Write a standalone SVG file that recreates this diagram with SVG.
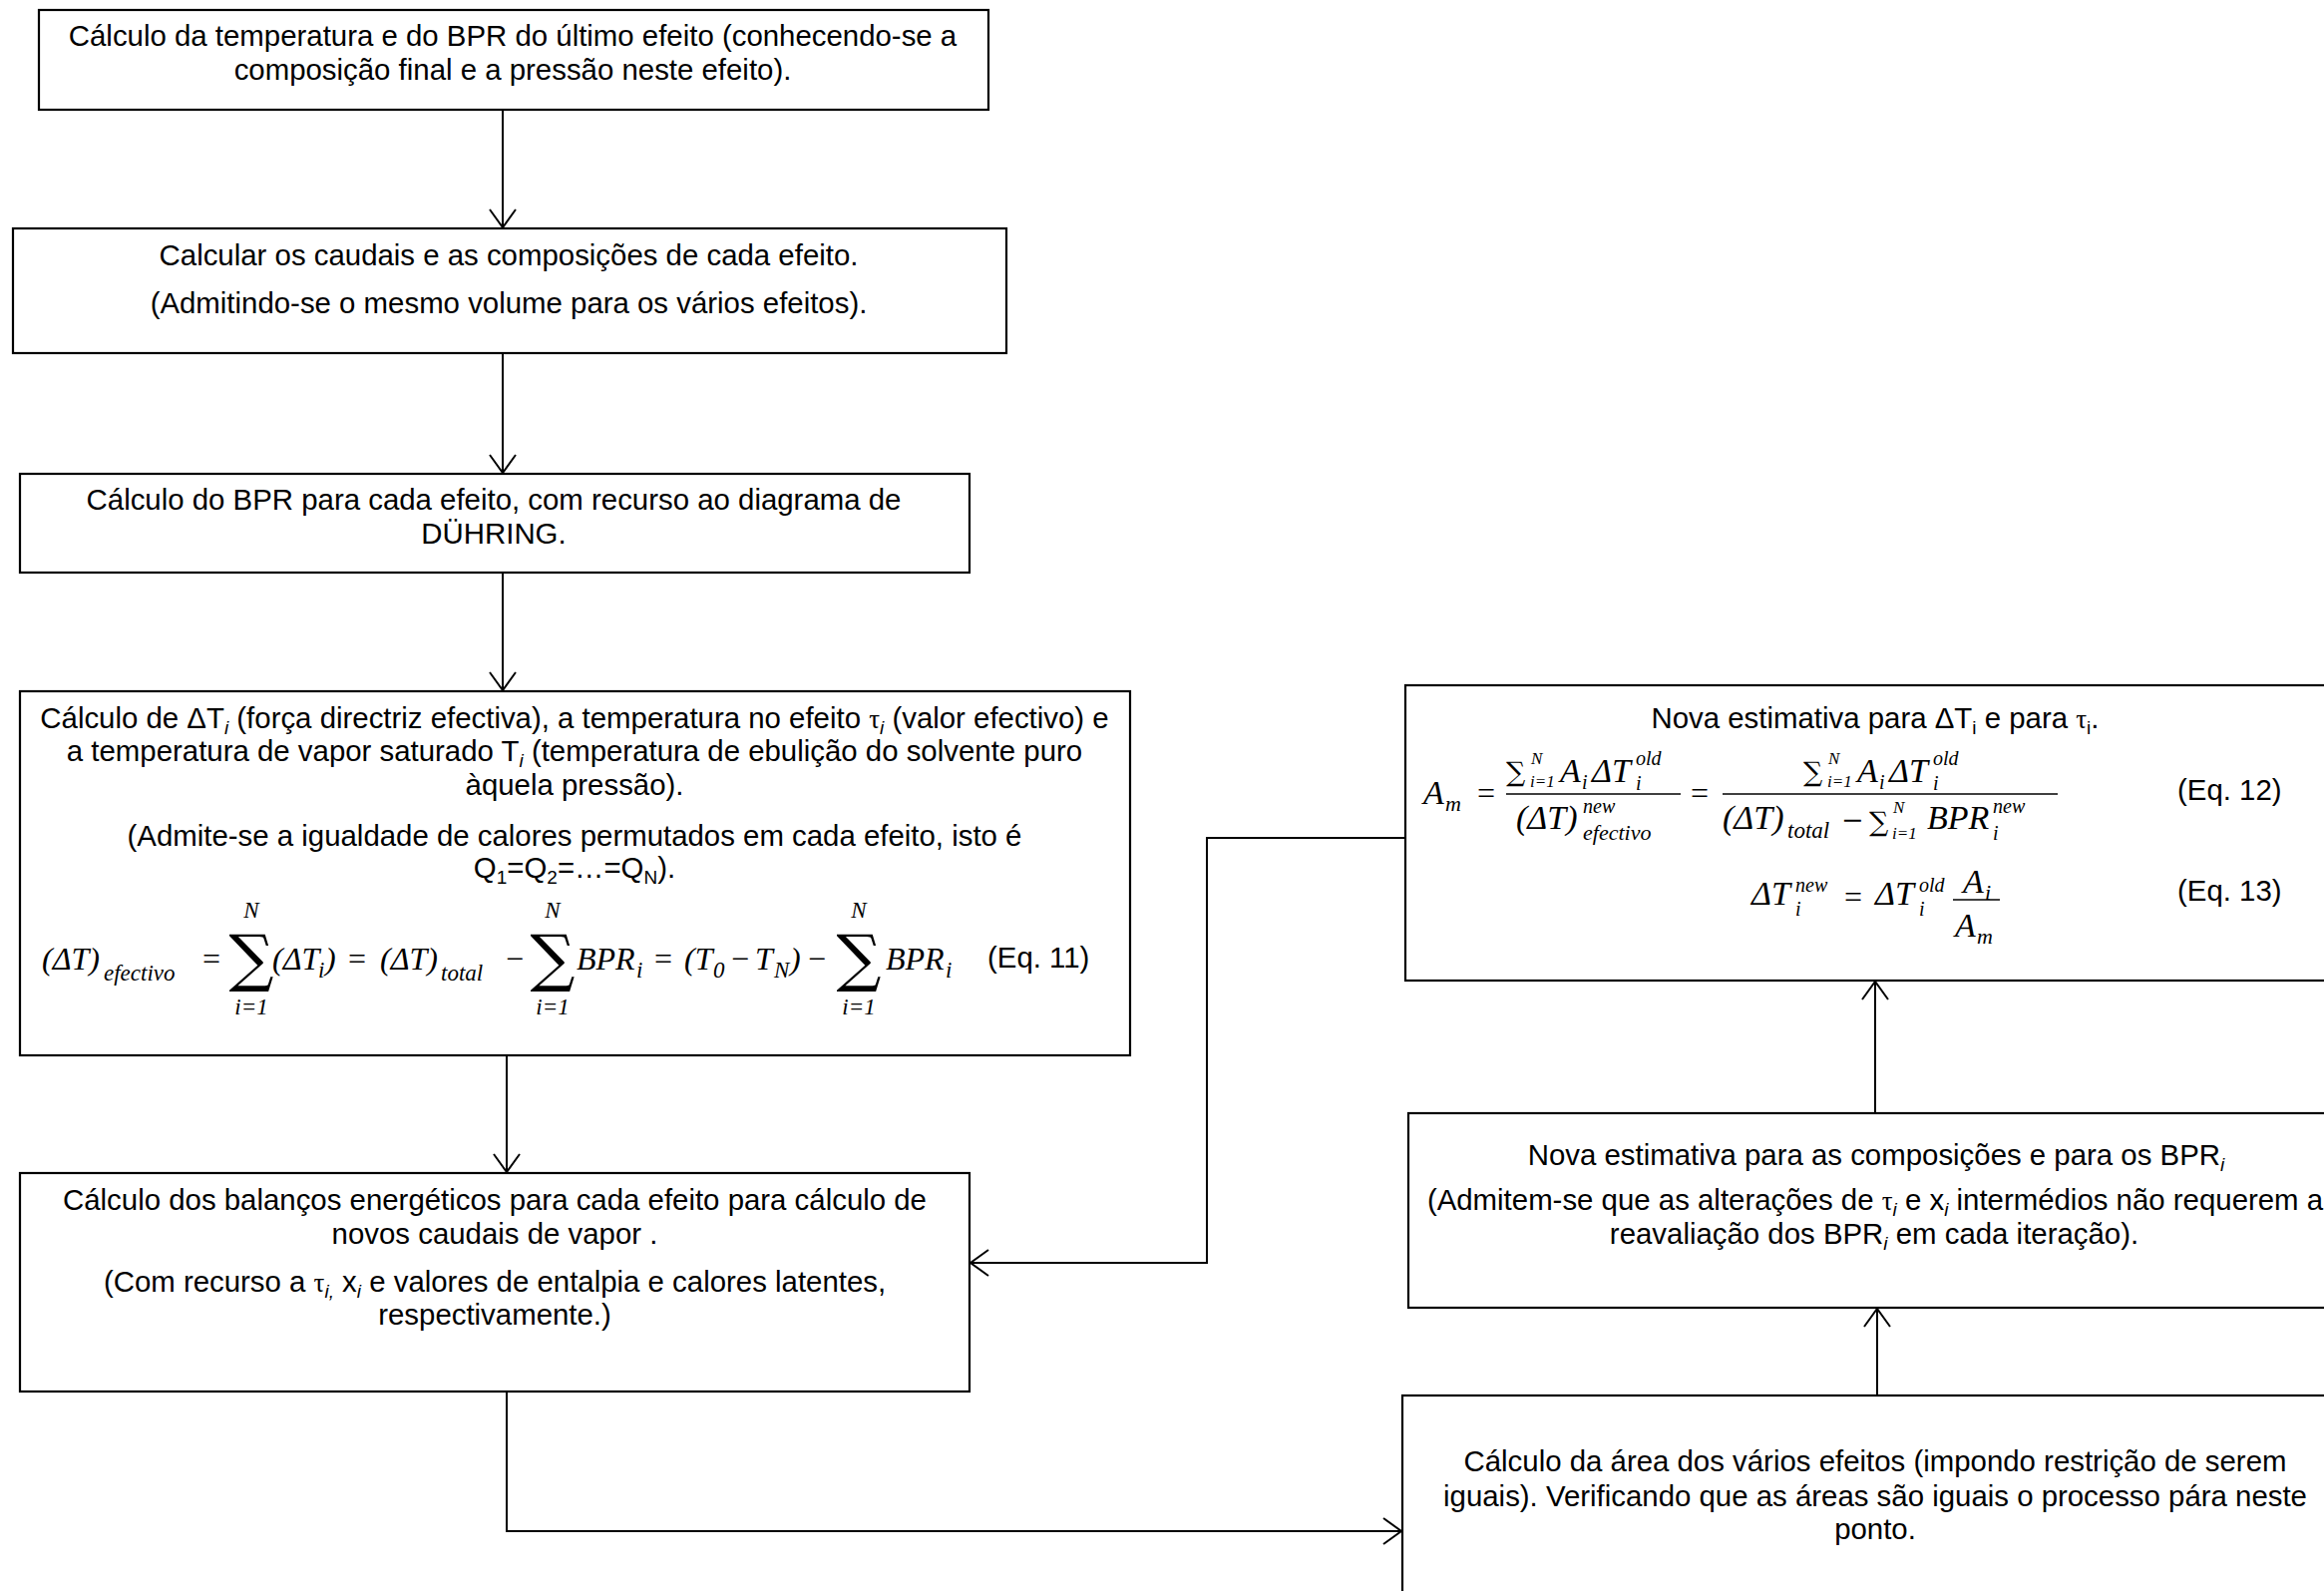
<svg xmlns="http://www.w3.org/2000/svg" width="2330" height="1595" viewBox="0 0 2330 1595">
<defs>
<style>
.box{fill:#fff;stroke:#000;stroke-width:2.2}
.conn{fill:none;stroke:#000;stroke-width:2}
.t{font-family:"Liberation Sans",Arial,sans-serif;font-size:29.4px;fill:#000}
.c{text-anchor:middle}
.s{font-size:19px}
.it{font-style:italic}
.g{font-family:"Liberation Serif","DejaVu Serif",serif;font-size:27px}
.m{font-family:"Liberation Serif","DejaVu Serif",serif;font-style:italic;font-size:32px;fill:#000}
.m2{font-family:"Liberation Serif","DejaVu Serif",serif;font-style:italic;font-size:34px;fill:#000}
.n{font-family:"Liberation Serif","DejaVu Serif",serif;font-size:32px;fill:#000;text-anchor:middle}
.ms{font-size:23px}
.mt{font-size:22px}
.mu{font-size:20px}
.mx{font-size:17px}
.big{font-family:"DejaVu Serif",serif;font-size:63px;font-style:normal}
.sm{font-family:"DejaVu Serif",serif;font-size:27px;font-style:normal}
.eq{font-family:"Liberation Sans",Arial,sans-serif;font-size:29.4px;fill:#000}
.bar{stroke:#000;stroke-width:1.6}
</style>
<marker id="ah" viewBox="-20 -15 22 30" markerWidth="22" markerHeight="30" refX="0" refY="0" orient="auto" markerUnits="userSpaceOnUse">
<path d="M-18,-13 L0,0 L-18,13" fill="none" stroke="#000" stroke-width="2"/>
</marker>
</defs>
<rect width="2330" height="1595" fill="#fff"/>

<g id="connectors">
<path class="conn" d="M504,110 V228" marker-end="url(#ah)"/>
<path class="conn" d="M504,354 V474" marker-end="url(#ah)"/>
<path class="conn" d="M504,574 V692" marker-end="url(#ah)"/>
<path class="conn" d="M508,1058 V1175" marker-end="url(#ah)"/>
<path class="conn" d="M508,1395 V1535 H1405" stroke-width="2.5" marker-end="url(#ah)"/>
<path class="conn" d="M1882,1399 V1312" marker-end="url(#ah)"/>
<path class="conn" d="M1880,1116 V984" marker-end="url(#ah)"/>
<path class="conn" d="M1409,840 H1210 V1266 H973" marker-end="url(#ah)"/>
</g>

<g id="n1">
<rect class="box" x="39" y="10" width="952" height="100"/>
<text class="t c" x="514" y="46">Cálculo da temperatura e do BPR do último efeito (conhecendo-se a</text>
<text class="t c" x="514" y="80">composição final e a pressão neste efeito).</text>
</g>

<g id="n2">
<rect class="box" x="13" y="229" width="996" height="125"/>
<text class="t c" x="510" y="266">Calcular os caudais e as composições de cada efeito.</text>
<text class="t c" x="510" y="314">(Admitindo-se o mesmo volume para os vários efeitos).</text>
</g>

<g id="n3">
<rect class="box" x="20" y="475" width="952" height="99"/>
<text class="t c" x="495" y="511">Cálculo do BPR para cada efeito, com recurso ao diagrama de</text>
<text class="t c" x="495" y="545">DÜHRING.</text>
</g>

<g id="n4">
<rect class="box" x="20" y="693" width="1113" height="365"/>
<text class="t c" x="576" y="730">Cálculo de ΔT<tspan class="s it" dy="6">i</tspan><tspan dy="-6"> (força directriz efectiva), a temperatura no efeito </tspan><tspan class="g">τ</tspan><tspan class="s it" dy="6">i</tspan><tspan dy="-6"> (valor efectivo) e</tspan></text>
<text class="t c" x="576" y="763">a temperatura de vapor saturado T<tspan class="s it" dy="6">i</tspan><tspan dy="-6"> (temperatura de ebulição do solvente puro</tspan></text>
<text class="t c" x="576" y="797">àquela pressão).</text>
<text class="t c" x="576" y="848">(Admite-se a igualdade de calores permutados em cada efeito, isto é</text>
<text class="t c" x="576" y="880">Q<tspan class="s" dy="6">1</tspan><tspan dy="-6">=Q</tspan><tspan class="s" dy="6">2</tspan><tspan dy="-6">=…=Q</tspan><tspan class="s" dy="6">N</tspan><tspan dy="-6">).</tspan></text>
<!-- Eq 11 -->
<text class="m"><tspan x="42" y="972">(ΔT)</tspan><tspan class="ms" x="104" y="983">efectivo</tspan></text>
<text class="n" x="212" y="972">=</text>
<text class="m" text-anchor="middle"><tspan class="big" x="252" y="982">∑</tspan><tspan class="ms" x="252" y="920">N</tspan><tspan class="ms" x="252" y="1017">i=1</tspan></text>
<text class="m"><tspan x="273" y="972">(ΔT</tspan><tspan class="ms" x="319" y="980">i</tspan><tspan x="326" y="972">)</tspan></text>
<text class="n" x="358" y="972">=</text>
<text class="m"><tspan x="381" y="972">(ΔT)</tspan><tspan class="ms" x="442" y="983">total</tspan></text>
<text class="n" x="516" y="972">−</text>
<text class="m" text-anchor="middle"><tspan class="big" x="554" y="982">∑</tspan><tspan class="ms" x="554" y="920">N</tspan><tspan class="ms" x="554" y="1017">i=1</tspan></text>
<text class="m"><tspan x="578" y="972">BPR</tspan><tspan class="ms" x="638" y="980">i</tspan></text>
<text class="n" x="665" y="972">=</text>
<text class="m"><tspan x="686" y="972">(T</tspan><tspan class="ms" x="715" y="980">0</tspan><tspan x="733" y="972" style="font-style:normal">−</tspan><tspan x="757" y="972">T</tspan><tspan class="ms" x="776" y="980">N</tspan><tspan x="792" y="972">)</tspan></text>
<text class="n" x="819" y="972">−</text>
<text class="m" text-anchor="middle"><tspan class="big" x="861" y="982">∑</tspan><tspan class="ms" x="861" y="920">N</tspan><tspan class="ms" x="861" y="1017">i=1</tspan></text>
<text class="m"><tspan x="888" y="972">BPR</tspan><tspan class="ms" x="948" y="980">i</tspan></text>
<text class="eq" x="990" y="970">(Eq. 11)</text>
</g>

<g id="n5">
<rect class="box" x="20" y="1176" width="952" height="219"/>
<text class="t c" x="496" y="1213">Cálculo dos balanços energéticos para cada efeito para cálculo de</text>
<text class="t c" x="496" y="1247">novos caudais de vapor .</text>
<text class="t c" x="496" y="1295">(Com recurso a <tspan class="g">τ</tspan><tspan class="s it" dy="6">i,</tspan><tspan dy="-6"> x</tspan><tspan class="s it" dy="6">i</tspan><tspan dy="-6"> e valores de entalpia e calores latentes,</tspan></text>
<text class="t c" x="496" y="1328">respectivamente.)</text>
</g>

<g id="n6">
<rect class="box" x="1409" y="687" width="960" height="296"/>
<text class="t c" x="1880" y="730">Nova estimativa para ΔT<tspan class="s" dy="6">i</tspan><tspan dy="-6"> e para </tspan><tspan class="g">τ</tspan><tspan class="s" dy="6">i</tspan><tspan dy="-6">.</tspan></text>
<!-- Eq 12 -->
<text class="m2"><tspan x="1427" y="806">A</tspan><tspan class="mt" x="1449" y="813">m</tspan></text>
<text class="n" x="1490" y="806">=</text>
<line class="bar" x1="1510" y1="796" x2="1685" y2="796"/>
<text class="m2"><tspan class="sm" x="1510" y="783">∑</tspan><tspan class="mx" x="1535" y="766">N</tspan><tspan class="mx" x="1534" y="789">i=1</tspan><tspan x="1564" y="784">A</tspan><tspan class="mu" x="1586" y="791">i</tspan><tspan x="1596" y="784">ΔT</tspan><tspan class="mu" x="1640" y="767">old</tspan><tspan class="mu" x="1640" y="792">i</tspan></text>
<text class="m2"><tspan x="1520" y="831">(ΔT)</tspan><tspan class="mu" x="1587" y="815">new</tspan><tspan class="mt" x="1587" y="842">efectivo</tspan></text>
<text class="n" x="1704" y="806">=</text>
<line class="bar" x1="1727" y1="796" x2="2063" y2="796"/>
<text class="m2"><tspan class="sm" x="1808" y="783">∑</tspan><tspan class="mx" x="1833" y="766">N</tspan><tspan class="mx" x="1832" y="789">i=1</tspan><tspan x="1862" y="784">A</tspan><tspan class="mu" x="1884" y="791">i</tspan><tspan x="1894" y="784">ΔT</tspan><tspan class="mu" x="1938" y="767">old</tspan><tspan class="mu" x="1938" y="792">i</tspan></text>
<text class="m2"><tspan x="1727" y="831">(ΔT)</tspan><tspan class="ms" x="1792" y="840">total</tspan><tspan class="sm" x="1846" y="831">−</tspan><tspan class="sm" x="1874" y="833">∑</tspan><tspan class="mx" x="1898" y="815">N</tspan><tspan class="mx" x="1897" y="841">i=1</tspan><tspan x="1932" y="831">BPR</tspan><tspan class="mu" x="1998" y="815">new</tspan><tspan class="mu" x="1998" y="842">i</tspan></text>
<text class="eq" x="2183" y="802">(Eq. 12)</text>
<!-- Eq 13 -->
<text class="m2"><tspan x="1756" y="907">ΔT</tspan><tspan class="mu" x="1800" y="894">new</tspan><tspan class="mu" x="1800" y="918">i</tspan></text>
<text class="n" x="1858" y="910">=</text>
<text class="m2"><tspan x="1880" y="907">ΔT</tspan><tspan class="mu" x="1924" y="894">old</tspan><tspan class="mu" x="1924" y="918">i</tspan></text>
<line class="bar" x1="1958" y1="902" x2="2005" y2="902"/>
<text class="m2"><tspan x="1968" y="895">A</tspan><tspan class="mt" x="1990" y="902">i</tspan></text>
<text class="m2"><tspan x="1960" y="939">A</tspan><tspan class="mt" x="1982" y="946">m</tspan></text>
<text class="eq" x="2183" y="903">(Eq. 13)</text>
</g>

<g id="n7">
<rect class="box" x="1412" y="1116" width="960" height="195"/>
<text class="t c" x="1881" y="1168">Nova estimativa para as composições e para os BPR<tspan class="s it" dy="6">i</tspan></text>
<text class="t c" x="1880" y="1213">(Admitem-se que as alterações de <tspan class="g">τ</tspan><tspan class="s it" dy="6">i</tspan><tspan dy="-6"> e x</tspan><tspan class="s it" dy="6">i</tspan><tspan dy="-6">  intermédios não requerem a</tspan></text>
<text class="t c" x="1879" y="1247">reavaliação dos BPR<tspan class="s it" dy="6">i</tspan><tspan dy="-6"> em cada iteração).</tspan></text>
</g>

<g id="n8">
<rect class="box" x="1406" y="1399" width="960" height="220"/>
<text class="t c" x="1880" y="1475">Cálculo da área dos vários efeitos (impondo restrição de serem</text>
<text class="t c" x="1880" y="1510">iguais). Verificando que as áreas são iguais o processo pára neste</text>
<text class="t c" x="1880" y="1543">ponto.</text>
</g>
</svg>
